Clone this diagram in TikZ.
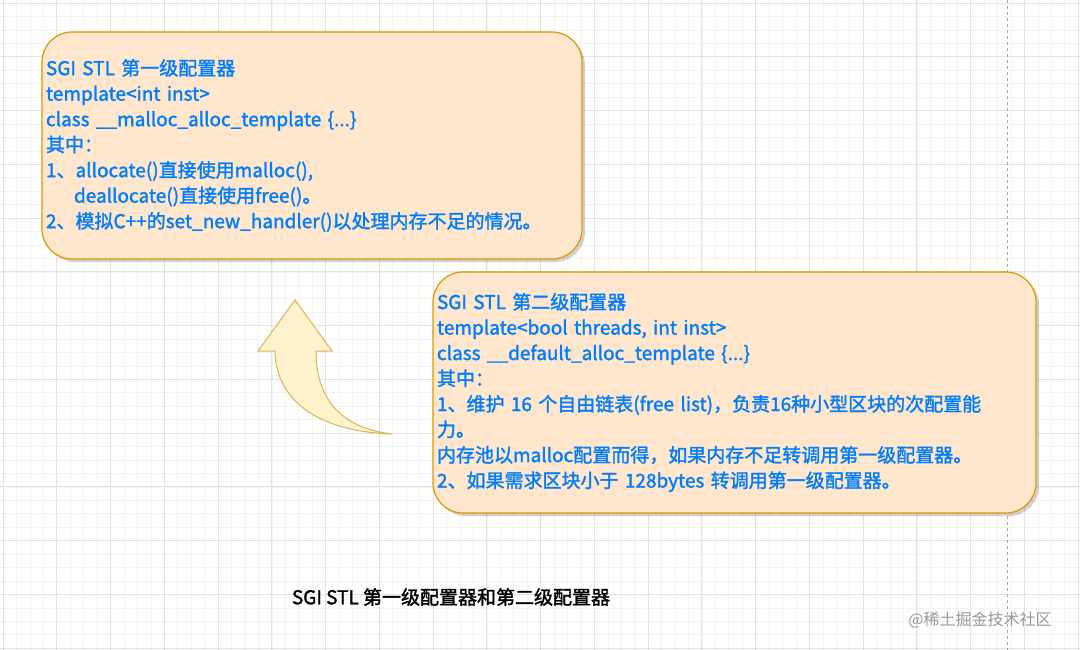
\documentclass[tikz,border=0pt]{standalone}
\usepackage{fontspec}
\setmainfont{Noto Sans CJK SC}[FakeBold=1.6]
\newfontfamily\plainfont{Noto Sans CJK SC}
\usetikzlibrary{shadows,positioning}
\definecolor{BoxFill}{RGB}{255,230,204}
\definecolor{BoxLine}{RGB}{215,155,0}
\definecolor{ArrowFill}{RGB}{255,242,204}
\definecolor{ArrowLine}{RGB}{214,182,86}
\definecolor{TextBlue}{RGB}{0,125,250}
\definecolor{GridMinor}{RGB}{243,243,243}
\definecolor{GridMajor}{RGB}{226,226,226}
\tikzset{
  allocbox/.style={draw=BoxLine,fill=BoxFill,line width=1.2pt,rounded corners=30pt,
    text=TextBlue,align=left,inner xsep=4pt,inner ysep=0pt,
    font=\fontsize{19}{25.5}\selectfont,
    drop shadow={shadow xshift=3pt,shadow yshift=-3pt,fill=black,opacity=.18}},
}
\begin{document}
\begin{tikzpicture}[x=1pt,y=-1pt]
      \useasboundingbox[fill=white] (0,0) rectangle (1080,650);
      % grid
      \foreach \i in {0,...,80}
        \draw[GridMinor,line width=.6pt] ({3+13.44*\i},0) -- ++(0,650);
      \foreach \i in {0,...,48}
        \draw[GridMinor,line width=.6pt] (0,{3+13.44*\i}) -- ++(1080,0);
      \foreach \i in {0,...,20}
        \draw[GridMajor,line width=.8pt] ({3+53.75*\i},0) -- ++(0,650);
      \foreach \i in {0,...,12}
        \draw[GridMajor,line width=.8pt] (0,{3+53.75*\i}) -- ++(1080,0);
      \draw[gray!70,dashed,dash pattern=on 3pt off 3pt] (1007,0) -- (1007,650);
      % first level
      \node[allocbox,text width=532pt,minimum height=227pt] (first) at (312,145.5) {%
        SGI STL 第一级配置器\\
        template<int inst>\\
        class \_\_malloc\_alloc\_template \{...\}\\
        其中：\\
        1、allocate()直接使用malloc(),\\
        \hspace*{28pt}deallocate()直接使用free()。\\
        2、模拟C++的set\_new\_handler()以处理内存不足的情况。};
      % second level
      \node[allocbox,text width=595pt,minimum height=241pt] (second) at (734.5,392.5) {%
        SGI STL 第二级配置器\\
        template<bool threads, int inst>\\
        class \_\_default\_alloc\_template \{...\}\\
        其中：\\
        1、维护 16 个自由链表(free list)，负责16种小型区块的次配置能\\
        力。\\
        内存池以malloc配置而得，如果内存不足转调用第一级配置器。\\
        2、如果需求区块小于 128bytes 转调用第一级配置器。};
      % curved arrow
      \draw[ArrowLine,fill=ArrowFill,line width=1pt,line join=miter]
        (295,300) -- (332,351) -- (316,351)
        .. controls (316,398) and (340,428) .. (392,434)
        .. controls (325,432) and (276,405) .. (275,351)
        -- (258,351) -- cycle;
      \node[font=\fontsize{19}{21}\selectfont] (title) at (451,597) {SGI STL 第一级配置器和第二级配置器};
      \node[text=gray!80,font=\plainfont\fontsize{16}{18}\selectfont] (mark) at (980,620) {@稀土掘金技术社区};
    \end{tikzpicture}
\end{document}
